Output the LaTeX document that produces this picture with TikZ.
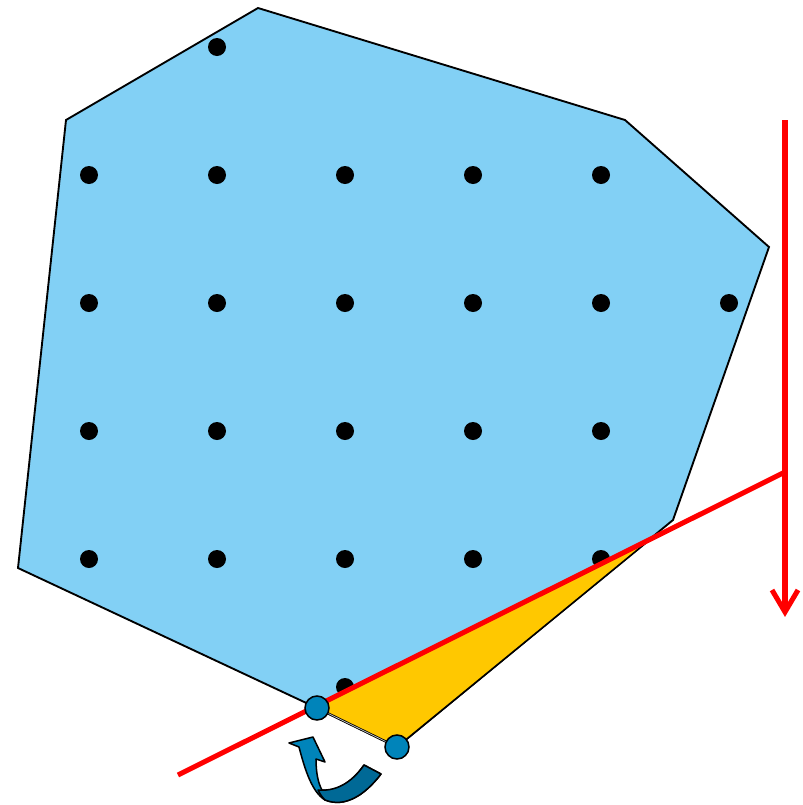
\documentclass[tikz,border=0pt]{standalone}
\usetikzlibrary{calc}
\definecolor{polyblue}{RGB}{130,208,245}
\definecolor{tri}{RGB}{255,200,0}
\definecolor{ptblue}{RGB}{0,132,186}
\definecolor{ptdark}{RGB}{0,105,150}
\definecolor{redl}{RGB}{255,0,0}
\tikzset{
  poly/.style={fill=polyblue, draw=black, line width=1.6pt, line join=miter},
  dotpt/.style={circle, fill=black, inner sep=0pt, minimum size=0.54cm},
  hull/.style={circle, fill=ptblue, draw=black, line width=1.3pt, inner sep=0pt, minimum size=0.72cm},
  redline/.style={draw=redl, line width=4.3pt},
  turn/.style={draw=black, line width=1.3pt, line join=round}
}
\begin{document}
\begin{tikzpicture}[x=0.03cm, y=-0.03cm]
\useasboundingbox (0,0) rectangle (802,805);
% polygon
\coordinate (v1) at (258,8);
\coordinate (v2) at (625,120);
\coordinate (v3) at (769,247);
\coordinate (v4) at (673,520);
\coordinate (v5) at (397,747);
\coordinate (v6) at (317,708);
\coordinate (v7) at (18,568);
\coordinate (v8) at (66,120);
\coordinate (cross) at (652,538);
\path[poly] (v1) -- (v2) -- (v3) -- (v4) -- (v5) -- (v6) -- (v7) -- (v8) -- cycle;
% dots
\node[dotpt] (d0) at (217,47) {};
\foreach \x [count=\i] in {89,217,345,473,601} {
  \node[dotpt] (a\i) at (\x,175) {};
  \node[dotpt] (c\i) at (\x,431) {};
  \node[dotpt] (e\i) at (\x,559) {};
}
\foreach \x [count=\i] in {89,217,345,473,601,729} {
  \node[dotpt] (b\i) at (\x,303) {};
}
\node[dotpt] (f1) at (345,687) {};
% yellow triangle
\fill[tri] (v6) -- (cross) -- (v5) -- cycle;
\draw[black, line width=1.4pt] (cross) -- (v5);
\draw[black, line width=0.7pt, double=gray!40, double distance=0.6pt] (v6) -- (v5);
% red lines
\coordinate (rs) at (178,775);
\coordinate (re) at (785,472);
\coordinate (vt) at (785,120);
\coordinate (vb) at (785,612);
\draw[redline] (rs) -- (re);
\draw[redline] (vt) -- (vb);
\draw[redline, line join=miter] (772,590) -- (vb) -- (798,590);
% hull points
\node[hull] (h1) at (v6) {};
\node[hull] (h2) at (v5) {};
% curved arrow
\path[fill=ptblue, turn]
  (364,765) -- (381,774)
  .. controls (365,795) and (345,808) .. (325,800)
  .. controls (312,792) and (305,770) .. (299,747)
  -- (289,743) -- (313,737) -- (325,762) -- (316,759)
  .. controls (316,772) and (318,783) .. (322,790)
  .. controls (340,792) and (355,778) .. (364,765) -- cycle;
\path[fill=ptdark, turn]
  (364,765) -- (381,774)
  .. controls (365,795) and (345,808) .. (325,800)
  .. controls (322,797) and (320,794) .. (318,790)
  .. controls (340,792) and (355,778) .. (364,765) -- cycle;
\end{tikzpicture}
\end{document}
